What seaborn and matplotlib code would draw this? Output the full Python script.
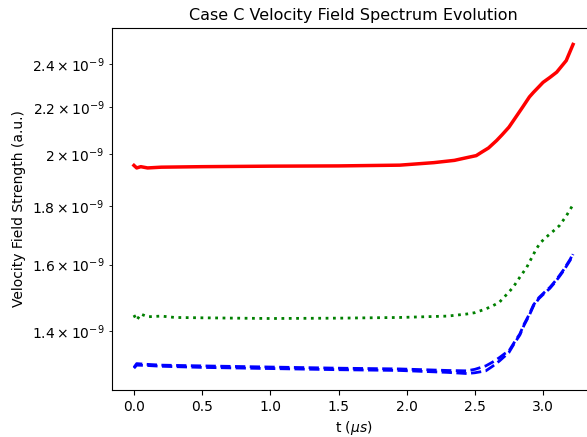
import numpy as np
import pandas as pd
import seaborn as sns
import matplotlib.pyplot as plt

# time axis (microseconds) and field strength (units of 1e-9)
t_red = [0.0, 0.02, 0.05, 0.1, 0.2, 0.5, 1.0, 1.5, 1.95, 2.2, 2.35, 2.45, 2.51, 2.55,
         2.6, 2.66, 2.7, 2.75, 2.8, 2.85, 2.9, 2.93, 2.97, 3.0, 3.05, 3.10, 3.17, 3.22]
v_red = [1.955, 1.945, 1.950, 1.945, 1.948, 1.950, 1.952, 1.953, 1.956, 1.966, 1.975,
         1.987, 1.994, 2.008, 2.025, 2.056, 2.080, 2.112, 2.155, 2.199, 2.245, 2.266,
         2.292, 2.312, 2.335, 2.360, 2.416, 2.496]

t_green = [0.0, 0.02, 0.05, 0.1, 0.2, 0.3, 0.5, 1.0, 1.5, 1.95, 2.3, 2.44, 2.5, 2.58,
           2.63, 2.68, 2.73, 2.78, 2.83, 2.88, 2.92, 2.95, 2.98, 3.02, 3.07, 3.12,
           3.17, 3.22]
v_green = [1.445, 1.430, 1.448, 1.440, 1.442, 1.438, 1.437, 1.435, 1.436, 1.438, 1.442,
           1.448, 1.452, 1.463, 1.472, 1.483, 1.505, 1.528, 1.560, 1.591, 1.625, 1.651,
           1.672, 1.690, 1.710, 1.731, 1.765, 1.806]

t_blue = [0.0, 0.02, 0.1, 0.2, 0.5, 1.0, 1.5, 1.95, 2.3, 2.44, 2.5, 2.58, 2.63, 2.68,
          2.72, 2.75, 2.79, 2.83, 2.86, 2.90, 2.93, 2.97, 3.01, 3.05, 3.09, 3.12,
          3.15, 3.17, 3.20, 3.22]
v_blue_a = [1.300, 1.310, 1.308, 1.306, 1.304, 1.301, 1.298, 1.296, 1.292, 1.291, 1.295,
            1.304, 1.314, 1.326, 1.337, 1.344, 1.368, 1.391, 1.418, 1.448, 1.475, 1.497,
            1.513, 1.528, 1.548, 1.565, 1.583, 1.597, 1.618, 1.637]
v_blue_b = [1.298, 1.306, 1.305, 1.303, 1.300, 1.297, 1.294, 1.292, 1.287, 1.284, 1.286,
            1.291, 1.303, 1.317, 1.330, 1.340, 1.365, 1.388, 1.415, 1.445, 1.472, 1.494,
            1.510, 1.525, 1.545, 1.562, 1.580, 1.594, 1.615, 1.634]

scale = 1e-9

fig = plt.figure(figsize=(5.87, 4.37), dpi=100)
ax = fig.add_axes([112 / 587, 47 / 437, (595 - 112) / 587, 362 / 437])

sns.lineplot(x=t_red, y=np.array(v_red) * scale, color='red', linewidth=2.5, ax=ax)
sns.lineplot(x=t_green, y=np.array(v_green) * scale, color='green', linestyle=':',
             linewidth=2, ax=ax)
sns.lineplot(x=t_blue, y=np.array(v_blue_a) * scale, color='blue', linestyle='--',
             linewidth=2, ax=ax)
sns.lineplot(x=t_blue, y=np.array(v_blue_b) * scale, color='blue', linestyle='--',
             linewidth=2, ax=ax)

ax.set_yscale('log')
ax.set(xlabel=r't ($\mu s$)',
       ylabel='Velocity Field Strength (a.u.)')
ax.set_title('Case C Velocity Field Spectrum Evolution', fontsize=11.5)

fig.savefig('out.png', dpi=100)
